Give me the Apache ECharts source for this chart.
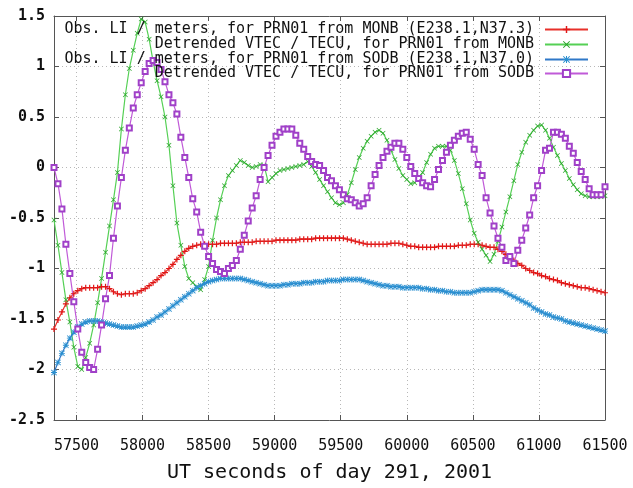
<!DOCTYPE html>
<html>
<head>
<meta charset="utf-8">
<script src="https://cdn.jsdelivr.net/npm/echarts@6/dist/echarts.min.js"></script>
<style>
  html, body { margin: 0; padding: 0; background: #fff; }
  #main { width: 633px; height: 488px; }
</style>
</head>
<body>
<div id="main"></div>
<script>
// UT seconds (30 s sampling)
var times = [
  57330,57360,57390,57420,57450,57480,57510,57540,57570,57600,
  57630,57660,57690,57720,57750,57780,57810,57840,57870,57900,
  57930,57960,57990,58020,58050,58080,58110,58140,58170,58200,
  58230,58260,58290,58320,58350,58380,58410,58440,58470,58500,
  58530,58560,58590,58620,58650,58680,58710,58740,58770,58800,
  58830,58860,58890,58920,58950,58980,59010,59040,59070,59100,
  59130,59160,59190,59220,59250,59280,59310,59340,59370,59400,
  59430,59460,59490,59520,59550,59580,59610,59640,59670,59700,
  59730,59760,59790,59820,59850,59880,59910,59940,59970,60000,
  60030,60060,60090,60120,60150,60180,60210,60240,60270,60300,
  60330,60360,60390,60420,60450,60480,60510,60540,60570,60600,
  60630,60660,60690,60720,60750,60780,60810,60840,60870,60900,
  60930,60960,60990,61020,61050,61080,61110,61140,61170,61200,
  61230,61260,61290,61320,61350,61380,61410,61440,61470,61500
];

// Obs. LI / meters, MONB
var liMonb = [
  -1.60,-1.51,-1.43,-1.35,-1.29,-1.25,-1.22,-1.20,-1.19,-1.19,
  -1.19,-1.19,-1.18,-1.18,-1.20,-1.23,-1.25,-1.26,-1.25,-1.25,
  -1.25,-1.24,-1.22,-1.20,-1.17,-1.14,-1.11,-1.07,-1.04,-1.00,
  -0.96,-0.91,-0.87,-0.83,-0.80,-0.78,-0.77,-0.76,-0.76,-0.76,
  -0.76,-0.76,-0.75,-0.75,-0.75,-0.75,-0.75,-0.74,-0.74,-0.74,
  -0.74,-0.73,-0.73,-0.73,-0.73,-0.73,-0.72,-0.72,-0.72,-0.72,
  -0.72,-0.72,-0.71,-0.71,-0.71,-0.71,-0.70,-0.70,-0.70,-0.70,
  -0.70,-0.70,-0.70,-0.70,-0.71,-0.72,-0.73,-0.74,-0.75,-0.76,
  -0.76,-0.76,-0.76,-0.76,-0.76,-0.75,-0.75,-0.75,-0.76,-0.77,
  -0.78,-0.78,-0.79,-0.79,-0.79,-0.79,-0.79,-0.78,-0.78,-0.78,
  -0.78,-0.78,-0.77,-0.77,-0.77,-0.76,-0.76,-0.76,-0.77,-0.78,
  -0.79,-0.79,-0.81,-0.83,-0.86,-0.89,-0.92,-0.95,-0.97,-1.00,
  -1.02,-1.04,-1.05,-1.07,-1.08,-1.10,-1.11,-1.12,-1.14,-1.15,
  -1.16,-1.17,-1.18,-1.19,-1.19,-1.20,-1.21,-1.22,-1.23,-1.24
];

// Detrended VTEC / TECU, MONB
var vtecMonb = [
  -0.52,-0.77,-1.04,-1.31,-1.53,-1.78,-1.97,-2.00,-1.88,-1.74,
  -1.56,-1.34,-1.10,-0.84,-0.58,-0.32,-0.05,0.38,0.72,0.98,
  1.16,1.33,1.47,1.44,1.27,1.05,0.86,0.70,0.50,0.22,
  -0.18,-0.55,-0.77,-0.98,-1.10,-1.14,-1.18,-1.21,-1.11,-0.98,
  -0.72,-0.50,-0.32,-0.18,-0.08,-0.03,0.02,0.07,0.05,0.02,
  0.00,0.01,0.03,0.02,-0.14,-0.10,-0.06,-0.03,-0.02,-0.01,
  0.00,0.01,0.02,0.03,0.06,0.01,-0.05,-0.12,-0.18,-0.24,
  -0.30,-0.35,-0.37,-0.35,-0.27,-0.15,-0.02,0.10,0.19,0.26,
  0.31,0.35,0.37,0.34,0.27,0.17,0.08,-0.01,-0.08,-0.12,
  -0.16,-0.15,-0.10,-0.05,0.05,0.13,0.19,0.21,0.21,0.21,
  0.17,0.07,-0.06,-0.21,-0.36,-0.52,-0.65,-0.74,-0.81,-0.87,
  -0.93,-0.86,-0.73,-0.59,-0.44,-0.29,-0.13,0.03,0.15,0.25,
  0.32,0.37,0.41,0.42,0.37,0.29,0.20,0.12,0.04,-0.03,
  -0.11,-0.17,-0.22,-0.26,-0.28,-0.29,-0.29,-0.29,-0.29,-0.28
];

// Obs. LI / meters, SODB
var liSodb = [
  -2.03,-1.93,-1.84,-1.76,-1.69,-1.63,-1.58,-1.55,-1.53,-1.52,
  -1.52,-1.52,-1.53,-1.54,-1.55,-1.56,-1.57,-1.58,-1.58,-1.58,
  -1.58,-1.57,-1.56,-1.55,-1.53,-1.51,-1.48,-1.46,-1.43,-1.40,
  -1.37,-1.34,-1.31,-1.28,-1.25,-1.22,-1.19,-1.17,-1.15,-1.13,
  -1.12,-1.11,-1.10,-1.10,-1.10,-1.10,-1.10,-1.10,-1.11,-1.12,
  -1.13,-1.14,-1.15,-1.16,-1.17,-1.17,-1.17,-1.17,-1.16,-1.16,
  -1.15,-1.15,-1.15,-1.14,-1.14,-1.14,-1.13,-1.13,-1.13,-1.12,
  -1.12,-1.12,-1.12,-1.11,-1.11,-1.11,-1.11,-1.11,-1.12,-1.13,
  -1.14,-1.15,-1.16,-1.17,-1.17,-1.18,-1.18,-1.18,-1.19,-1.19,
  -1.19,-1.19,-1.19,-1.20,-1.20,-1.21,-1.21,-1.22,-1.22,-1.23,
  -1.23,-1.24,-1.24,-1.24,-1.24,-1.24,-1.23,-1.22,-1.21,-1.21,
  -1.21,-1.21,-1.21,-1.22,-1.24,-1.26,-1.28,-1.30,-1.32,-1.34,
  -1.36,-1.39,-1.41,-1.43,-1.45,-1.46,-1.48,-1.49,-1.50,-1.52,
  -1.53,-1.54,-1.55,-1.56,-1.57,-1.58,-1.59,-1.60,-1.61,-1.62
];

// Detrended VTEC / TECU, SODB
var vtecSodb = [
  0.00,-0.16,-0.41,-0.76,-1.05,-1.33,-1.60,-1.83,-1.93,-1.98,
  -2.00,-1.80,-1.56,-1.30,-1.07,-0.70,-0.38,-0.10,0.17,0.39,
  0.59,0.72,0.84,0.95,1.03,1.06,1.04,0.97,0.85,0.72,
  0.64,0.53,0.30,0.10,-0.10,-0.31,-0.44,-0.64,-0.78,-0.88,
  -0.95,-1.01,-1.03,-1.05,-1.00,-0.97,-0.92,-0.81,-0.67,-0.53,
  -0.40,-0.28,-0.12,0.00,0.12,0.22,0.31,0.35,0.38,0.38,
  0.38,0.32,0.24,0.18,0.11,0.06,0.03,0.02,-0.03,-0.10,
  -0.13,-0.18,-0.22,-0.27,-0.31,-0.32,-0.35,-0.38,-0.36,-0.30,
  -0.18,-0.07,0.02,0.10,0.16,0.20,0.24,0.24,0.18,0.10,
  0.01,-0.06,-0.11,-0.15,-0.18,-0.19,-0.12,-0.02,0.07,0.15,
  0.22,0.27,0.31,0.34,0.35,0.28,0.18,0.03,-0.08,-0.30,
  -0.45,-0.58,-0.70,-0.79,-0.92,-0.88,-0.95,-0.82,-0.72,-0.60,
  -0.47,-0.30,-0.18,-0.03,0.17,0.19,0.35,0.35,0.33,0.29,
  0.21,0.14,0.05,-0.04,-0.12,-0.21,-0.27,-0.27,-0.27,-0.19
];

var names = [
  'Obs. LI / meters, for PRN01 from MONB (E238.1,N37.3)',
  'Detrended VTEC / TECU, for PRN01 from MONB',
  'Obs. LI / meters, for PRN01 from SODB (E238.1,N37.0)',
  'Detrended VTEC / TECU, for PRN01 from SODB'
];

var MONO = '"DejaVu Sans Mono", "Liberation Mono", monospace';

var plusSym = 'path://M4,0H6V4H10V6H6V10H4V6H0V4H4Z';
var crossSym = 'path://M1,0L5,4L9,0L10,1L6,5L10,9L9,10L5,6L1,10L0,9L4,5L0,1Z';
var starSym = 'path://M4.3,0H5.7V4.3H10V5.7H5.7V10H4.3V5.7H0V4.3H4.3Z' +
  'M1,0L5,4L9,0L10,1L6,5L10,9L9,10L5,6L1,10L0,9L4,5L0,1Z';

function pairs(vals) {
  return times.map(function (t, i) { return [t, vals[i]]; });
}

var chart = echarts.init(document.getElementById('main'));

function lineSeries(name, vals, lineColor, markColor, symbol, size, extra) {
  var s = {
    name: name,
    type: 'line',
    data: pairs(vals),
    symbol: symbol,
    symbolSize: size,
    showAllSymbol: true,
    lineStyle: { color: lineColor, width: 1.2 },
    itemStyle: { color: markColor },
    emphasis: { disabled: true }
  };
  for (var k in extra) s[k] = extra[k];
  return s;
}

function legendAt(i, top) {
  return {
    data: [names[i]],
    orient: 'vertical',
    right: 44,
    top: top,
    align: 'right',
    padding: 0,
    itemWidth: 43,
    itemHeight: 9,
    selectedMode: false,
    textStyle: { fontFamily: MONO, fontSize: 15, color: '#111', padding: [0, 6, 0, 0] }
  };
}

var gridColor = '#b8b8b8';
var frameColor = '#555';

chart.setOption({
  animation: false,
  backgroundColor: '#fff',
  grid: { left: 54, right: 28, top: 16, bottom: 63 },
  legend: [legendAt(0, 22), legendAt(1, 37), legendAt(2, 52), legendAt(3, 66)],
  xAxis: [{
    type: 'value',
    min: 57330,
    max: 61500,
    splitNumber: 8,
    name: 'UT seconds of day 291, 2001',
    nameLocation: 'middle',
    nameGap: 43,
    nameTextStyle: { fontFamily: MONO, fontSize: 20, color: '#111' },
    axisLine: { onZero: false, lineStyle: { color: frameColor, width: 1 } },
    axisTick: { inside: true, length: 5, lineStyle: { color: frameColor } },
    axisLabel: {
      margin: 19,
      fontFamily: MONO,
      fontSize: 15,
      color: '#111',
      formatter: function (v) { return v % 500 === 0 ? String(v) : ''; }
    },
    splitLine: { show: true, lineStyle: { color: gridColor, type: [1, 3] } }
  }, {
    type: 'value',
    position: 'top',
    min: 57330,
    max: 61500,
    splitNumber: 8,
    axisLine: { onZero: false, lineStyle: { color: frameColor, width: 1 } },
    axisTick: { inside: true, length: 5, lineStyle: { color: frameColor } },
    axisLabel: { show: false },
    splitLine: { show: false }
  }],
  yAxis: [{
    type: 'value',
    min: -2.5,
    max: 1.5,
    interval: 0.5,
    axisLine: { show: true, onZero: false, lineStyle: { color: frameColor, width: 1 } },
    axisTick: { show: true, inside: true, length: 5, lineStyle: { color: frameColor } },
    axisLabel: {
      margin: 9,
      fontFamily: MONO,
      fontSize: 15,
      fontWeight: 'bold',
      color: '#111',
      formatter: function (v) { return String(v); }
    },
    splitLine: { show: true, lineStyle: { color: gridColor, type: [1, 3] } }
  }, {
    type: 'value',
    position: 'right',
    min: -2.5,
    max: 1.5,
    interval: 0.5,
    axisLine: { show: true, onZero: false, lineStyle: { color: frameColor, width: 1 } },
    axisTick: { show: true, inside: true, length: 5, lineStyle: { color: frameColor } },
    axisLabel: { show: false },
    splitLine: { show: false }
  }],
  series: [
    lineSeries(names[0], liMonb, '#e8302a', '#e01818', plusSym, 6, {}),
    lineSeries(names[1], vtecMonb, '#55d055', '#2aa52a', crossSym, 5, {}),
    lineSeries(names[2], liSodb, '#2f78c8', '#2a8fd0', starSym, 6, {}),
    lineSeries(names[3], vtecSodb, '#c05ad8', '#a040c8', 'emptyRect', 5,
      { itemStyle: { color: '#a040c8', borderColor: '#a040c8', borderWidth: 1 } })
  ]
});
</script>
</body>
</html>
